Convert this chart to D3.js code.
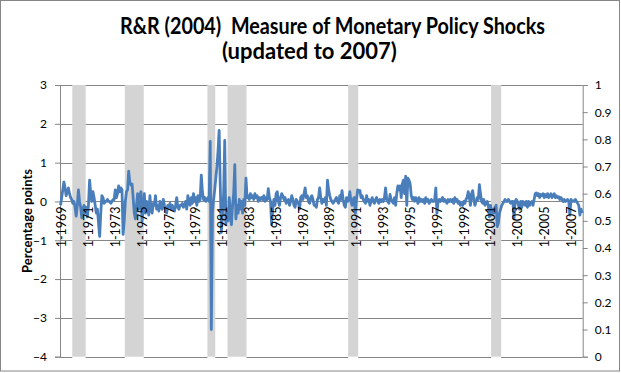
<!DOCTYPE html>
<html>
<head>
<meta charset="utf-8">
<script src="https://cdn.jsdelivr.net/npm/d3@7"></script>
<style>
  body { margin: 0; background: #fff; }
  svg { display: block; font-family: Lato, "Open Sans", sans-serif; }
</style>
</head>
<body>
<div id="chart"></div>
<script>
// chart data
const firstYear = 1969;
const lastYear = 2007;

// R&R shocks, percentage points, one row per year (Jan..Dec)
const shocks = [
  -0.1, 0.1, 0.3, 0.5, 0.35, 0.15, 0.25, 0.35, 0.2, 0.1, 0.05, -0.05,      // 1969
  0.0, -0.15, -0.38, -0.1, 0.3, 0.0, -0.15, -0.42, -0.2, -0.1, -0.3, -0.15, // 1970
  -0.4, -0.1, 0.55, 0.2, 0.0, 0.25, 0.1, -0.1, -0.3, -0.2, -0.55, -0.9,     // 1971
  -0.3, 0.15, 0.1, -0.05, 0.0, 0.0, 0.05, 0.0, 0.0, -0.05, 0.0, 0.05,       // 1972
  0.05, 0.3, 0.1, 0.2, 0.4, 0.25, 0.35, 0.3, -0.85, -0.5, 0.0, 0.25,        // 1973
  0.3, 0.78, 0.5, 0.42, 0.45, 0.1, -0.3, -0.45, -0.1, 0.2, -0.2, 0.15,      // 1974
  0.25, -0.5, -0.2, 0.2, -0.3, 0.0, -0.15, -0.35, 0.15, -0.2, -0.3, -0.05,  // 1975
  -0.1, 0.15, -0.2, -0.1, -0.25, 0.0, -0.15, -0.2, 0.05, -0.1, -0.2, -0.3,  // 1976
  -0.1, -0.15, -0.05, -0.2, -0.1, -0.15, -0.25, -0.1, 0.1, -0.15, -0.2, -0.1, // 1977
  -0.1, -0.05, -0.15, -0.1, 0.0, -0.2, 0.15, -0.05, -0.1, 0.1, -0.05, 0.2,  // 1978
  0.0, 0.1, -0.1, 0.15, 0.0, 0.05, 0.68, 0.25, 0.05, 0.1, 0.0, 0.05,        // 1979
  0.1, 0.0, 1.55, -3.3, -0.3, 0.05, 0.3, 0.6, 0.9, 1.3, 1.83, 0.4,          // 1980
  -0.8, -0.3, 0.2, 1.57, -0.6, -0.3, -0.5, 0.1, -0.3, -0.6, -0.1, 0.2,      // 1981
  0.95, -0.45, -0.1, -0.3, 0.05, -0.2, 0.0, -0.3, 0.05, -0.1, 0.6, 0.1,     // 1982
  0.15, 0.05, 0.2, 0.1, 0.15, 0.05, 0.2, 0.1, 0.15, 0.0, 0.1, 0.05,         // 1983
  0.1, 0.05, 0.15, 0.0, 0.1, 0.05, 0.33, 0.1, 0.0, -0.6, -0.2, 0.05,        // 1984
  -0.1, 0.2, 0.25, 0.0, -0.1, 0.1, 0.2, 0.15, 0.05, 0.1, -0.05, 0.0,        // 1985
  0.05, -0.1, 0.0, 0.15, 0.05, -0.1, -0.15, 0.05, 0.0, -0.05, -0.2, 0.1,    // 1986
  0.15, 0.05, 0.2, 0.35, 0.1, 0.15, 0.0, -0.05, 0.1, 0.15, 0.05, -0.1,      // 1987
  -0.1, -0.15, 0.05, 0.1, 0.35, 0.1, -0.05, 0.05, 0.0, 0.1, -0.1, 0.55,     // 1988
  0.3, 0.15, 0.05, 0.0, -0.05, 0.0, 0.05, 0.1, 0.0, -0.05, 0.15, 0.05,      // 1989
  0.28, 0.05, -0.1, -0.15, 0.1, 0.0, 0.05, 0.25, 0.0, -0.1, 0.05, 0.1,      // 1990
  -0.3, 0.05, 0.3, 0.25, 0.28, 0.1, 0.15, 0.05, 0.0, -0.05, 0.15, 0.0,      // 1991
  0.05, -0.1, 0.0, 0.1, 0.0, -0.05, 0.05, 0.1, 0.0, -0.05, 0.05, 0.0,       // 1992
  0.05, 0.0, 0.1, 0.35, 0.05, 0.0, -0.05, 0.18, 0.05, 0.0, -0.05, 0.1,      // 1993
  -0.1, 0.2, 0.4, 0.3, 0.4, 0.1, 0.45, 0.55, 0.2, 0.65, -0.1, 0.6,          // 1994
  0.55, 0.45, 0.15, 0.05, 0.1, 0.0, 0.1, 0.05, -0.05, 0.1, 0.0, 0.05,       // 1995
  0.0, 0.05, -0.05, 0.1, 0.0, 0.05, -0.05, 0.0, 0.05, 0.0, 0.0, 0.05,       // 1996
  0.35, -0.3, 0.0, 0.05, 0.0, 0.05, 0.1, 0.0, 0.05, 0.0, -0.05, 0.05,       // 1997
  0.0, 0.05, 0.0, 0.05, -0.05, 0.1, 0.0, 0.05, -0.05, 0.0, -0.1, -0.05,     // 1998
  -0.1, 0.0, -0.05, 0.05, 0.1, 0.25, 0.1, -0.1, 0.2, 0.28, 0.05, -0.1,      // 1999
  0.0, 0.1, 0.05, 0.43, 0.2, 0.0, -0.05, 0.05, -0.1, -0.05, 0.0, -0.1,      // 2000
  -0.4, -0.1, -0.35, -0.2, -0.3, -0.15, -0.1, -0.65, -0.55, -0.3, -0.2, -0.1, // 2001
  -0.05, 0.0, 0.05, 0.0, 0.0, 0.05, 0.0, -0.05, 0.0, 0.0, -0.45, 0.0,       // 2002
  0.05, 0.0, -0.1, -0.2, 0.0, -0.15, 0.0, -0.05, -0.1, 0.0, -0.15, 0.0,     // 2003
  -0.1, -0.05, 0.0, -0.1, 0.05, 0.2, 0.22, 0.15, 0.2, 0.1, 0.18, 0.15,      // 2004
  0.2, 0.1, 0.18, 0.12, 0.2, 0.1, 0.15, 0.2, 0.1, 0.15, 0.2, 0.1,           // 2005
  0.15, 0.1, 0.12, 0.05, 0.1, 0.05, 0.0, 0.05, 0.0, 0.02, 0.05, 0.0,        // 2006
  -0.35, 0.05, 0.0, 0.02, 0.0, 0.05, 0.0, -0.05, -0.1, -0.35, -0.2, -0.3    // 2007
];

// NBER recessions (shaded bars), first and last month
const recessions = [
  ["12-1969", "11-1970"],
  ["11-1973", "3-1975"],
  ["1-1980", "7-1980"],
  ["7-1981", "11-1982"],
  ["7-1990", "3-1991"],
  ["3-2001", "11-2001"]
];

const xTickLabels = ["1-1969", "1-1971", "1-1973", "1-1975", "1-1977", "1-1979",
  "1-1981", "1-1983", "1-1985", "1-1987", "1-1989", "1-1991", "1-1993", "1-1995",
  "1-1997", "1-1999", "1-2001", "1-2003", "1-2005", "1-2007"];
const leftTicks = [-4, -3, -2, -1, 0, 1, 2, 3];
const rightTicks = [0, 0.1, 0.2, 0.3, 0.4, 0.5, 0.6, 0.7, 0.8, 0.9, 1];

const titleLines = ["R&R (2004)  Measure of Monetary Policy Shocks", "(updated to 2007)"];
const yTitle = "Percentage points";

// month categories "M-YYYY"
const categories = [];
for (let y = firstYear; y <= lastYear; y++) {
  for (let m = 1; m <= 12; m++) categories.push(m + "-" + y);
}
const series = categories.map((c, i) => ({ cat: c, value: shocks[i] }));

//*********
// layout
const W = 621, H = 373;
const plot = { left: 60, right: 582.7, top: 85, bottom: 356.7 };
const gridColor = "#868686";
const lineColor = "#4a7ebb";
const shadeColor = "#d4d4d4";

const svg = d3.select("#chart").append("svg")
  .attr("width", W)
  .attr("height", H);

svg.append("rect")
  .attr("x", 0.5).attr("y", 0.5)
  .attr("width", W - 2).attr("height", H - 2.5)
  .attr("fill", "#fff")
  .attr("stroke", gridColor);

const x = d3.scaleBand().domain(categories).range([plot.left, plot.right]).padding(0);
const y = d3.scaleLinear().domain([-4, 3]).range([plot.bottom, plot.top]);
const y2 = d3.scaleLinear().domain([0, 1]).range([plot.bottom, plot.top]);

// recession shading, drawn under gridlines like excel secondary columns
svg.append("g").selectAll("rect")
  .data(recessions)
  .enter()
  .append("rect")
  .attr("x", (d) => x(d[0]))
  .attr("width", (d) => x(d[1]) + x.bandwidth() - x(d[0]))
  .attr("y", y2(1))
  .attr("height", y2(0) - y2(1))
  .attr("fill", shadeColor);

// horizontal gridlines (hidden behind the shaded bars)
const gridG = svg.append("g");
leftTicks.forEach((t) => {
  let segs = [[plot.left, plot.right]];
  recessions.forEach((r) => {
    let a = x(r[0]), b = x(r[1]) + x.bandwidth();
    segs = segs.flatMap((s) => {
      if (b <= s[0] || a >= s[1]) return [s];
      let out = [];
      if (a > s[0]) out.push([s[0], a]);
      if (b < s[1]) out.push([b, s[1]]);
      return out;
    });
  });
  segs.forEach((s) => {
    gridG.append("line")
      .attr("x1", s[0]).attr("x2", s[1])
      .attr("y1", Math.round(y(t)) + 0.5).attr("y2", Math.round(y(t)) + 0.5)
      .attr("stroke", gridColor).attr("stroke-width", 1);
  });
});

// left axis
const leftAxis = svg.append("g")
  .attr("transform", `translate(${plot.left},0)`)
  .call(d3.axisLeft(y).tickValues(leftTicks).tickSize(5).tickPadding(8).tickFormat(d3.format("d")));
leftAxis.select(".domain").attr("stroke", gridColor);
leftAxis.selectAll(".tick line").attr("stroke", gridColor);
leftAxis.selectAll("text").attr("font-size", "12px").attr("fill", "#000")
  .attr("font-family", "Lato, sans-serif");

// right axis
const rightAxis = svg.append("g")
  .attr("transform", `translate(${plot.right},0)`)
  .call(d3.axisRight(y2).tickValues(rightTicks).tickSize(5).tickPadding(7).tickFormat(d3.format("")));
rightAxis.select(".domain").attr("stroke", gridColor);
rightAxis.selectAll(".tick line").attr("stroke", gridColor);
rightAxis.selectAll("text").attr("font-size", "12px").attr("fill", "#000")
  .attr("font-family", "Lato, sans-serif");

// the series line
const line = d3.line()
  .x((d) => x(d.cat) + x.bandwidth() / 2)
  .y((d) => y(d.value));

svg.append("path")
  .datum(series)
  .attr("d", line)
  .attr("fill", "none")
  .attr("stroke", lineColor)
  .attr("stroke-width", 2.8)
  .attr("stroke-linejoin", "round");

// category labels, rotated, hanging below the zero line
svg.append("g").selectAll("text")
  .data(xTickLabels)
  .enter()
  .append("text")
  .attr("transform", (d) => `translate(${x(d) + x.bandwidth() / 2 + 1.5},${y(0) + 5}) rotate(-90)`)
  .attr("dy", "0.35em")
  .attr("text-anchor", "end")
  .attr("font-size", "12.5px")
  .attr("fill", "#000")
  .text((d) => d);

// y axis title
svg.append("text")
  .attr("transform", `translate(27,221) rotate(-90)`)
  .attr("dy", "0.35em")
  .attr("text-anchor", "middle")
  .attr("font-size", "13px")
  .attr("font-weight", "bold")
  .text(yTitle);

// title, squeezed to the width of the original
const titleSpec = [{ x: 120, y: 34, w: 425 }, { x: 222, y: 59, w: 176 }];
titleLines.forEach((t, i) => {
  let el = svg.append("text")
    .attr("x", titleSpec[i].x)
    .attr("y", titleSpec[i].y)
    .attr("font-size", "22px")
    .attr("font-weight", "bold")
    .attr("fill", "#000")
    .style("white-space", "pre")
    .text(t);
  let len = el.node().getComputedTextLength();
  if (Math.abs(len - titleSpec[i].w) > 2) {
    el.attr("textLength", titleSpec[i].w).attr("lengthAdjust", "spacingAndGlyphs");
  }
});
</script>
</body>
</html>
